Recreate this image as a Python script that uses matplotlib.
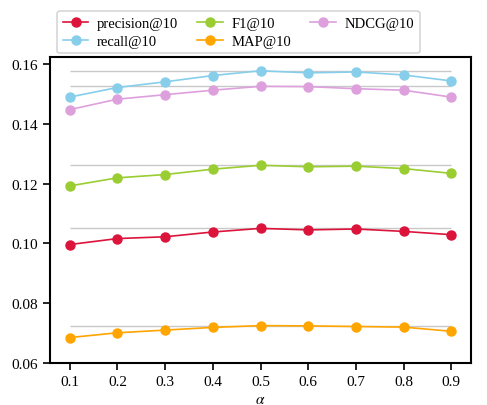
import matplotlib
matplotlib.use("Agg")
import matplotlib.pyplot as plt

alpha = [0.1, 0.2, 0.3, 0.4, 0.5, 0.6, 0.7, 0.8, 0.9]
precision = [0.0996, 0.1016, 0.1022, 0.1038, 0.1050, 0.1045, 0.1048, 0.1040, 0.1029]
recall = [0.1489, 0.1521, 0.1540, 0.1561, 0.1577, 0.1570, 0.1573, 0.1563, 0.1543]
f1 = [0.1192, 0.1219, 0.1230, 0.1248, 0.1261, 0.1256, 0.1258, 0.1250, 0.1234]
map10 = [0.0685, 0.0701, 0.0710, 0.0719, 0.0725, 0.0724, 0.0722, 0.0720, 0.0706]
ndcg = [0.1447, 0.1482, 0.1497, 0.1512, 0.1525, 0.1524, 0.1517, 0.1512, 0.1489]

series = [
    ("precision@10", precision, "#DC143C"),
    ("recall@10", recall, "#87CEEB"),
    ("F1@10", f1, "#9ACD32"),
    ("MAP@10", map10, "#FFA500"),
    ("NDCG@10", ndcg, "#DDA0DD"),
]

plt.rcParams['font.family'] = ['Liberation Serif', 'DejaVu Serif']
plt.rcParams['mathtext.fontset'] = 'stix'

fig = plt.figure(figsize=(4.87, 4.06), dpi=100)
ax = fig.add_axes([50/487, 1-364/406, (471-50)/487, (364-58)/406])

for name, vals, col in series:
    ax.hlines(max(vals), alpha[0], alpha[-1], colors="#c8c8c8", linewidth=1.0, zorder=1)
for name, vals, col in series:
    ax.plot(alpha, vals, '-o', color=col, label=name, linewidth=1.2, markersize=6.5, zorder=3)

ax.set_xlim(0.0587, 0.9413)
ax.set_ylim(0.06, 0.1623)
ax.set_xticks(alpha)
ax.set_xticklabels([f"{a:.1f}" for a in alpha])
ax.set_yticks([0.06, 0.08, 0.10, 0.12, 0.14, 0.16])
ax.set_yticklabels(["0.06", "0.08", "0.10", "0.12", "0.14", "0.16"])
ax.tick_params(labelsize=11, width=1.2, length=5, direction='out', pad=4)
for s in ax.spines.values():
    s.set_linewidth(1.5)
ax.set_xlabel(r"$\alpha$", fontsize=11, labelpad=3)

handles, labels = ax.get_legend_handles_labels()
leg = fig.legend(handles, labels, loc='upper left', bbox_to_anchor=(57/487, 1-12/406),
                 borderaxespad=0.0,
                 ncol=3, fontsize=10.5, frameon=True, handlelength=1.75,
                 columnspacing=1.3, handletextpad=0.6, borderpad=0.4, labelspacing=0.3)
leg.get_frame().set_edgecolor("#cccccc")
leg.get_frame().set_linewidth(1.2)

fig.savefig("out.png", dpi=100)
